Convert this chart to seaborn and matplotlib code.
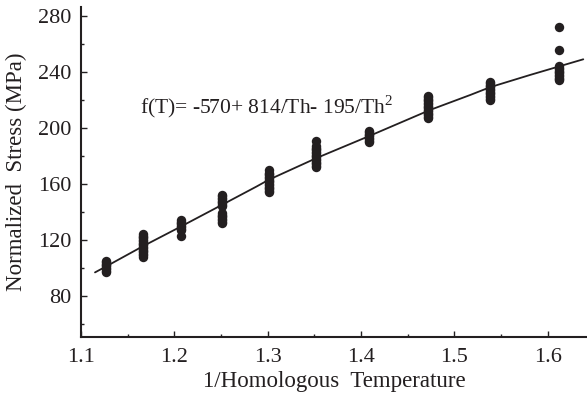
import matplotlib
matplotlib.use("Agg")
import matplotlib.pyplot as plt
import numpy as np
import pandas as pd
import seaborn as sns

# Measured normalized stress at each inverse homologous temperature
x_levels = [1.127, 1.166, 1.207, 1.251, 1.301, 1.352, 1.409, 1.4715, 1.538, 1.612]
stress_1 = [97, 98, 99, 100, 101, 102, 103, 104, 105]
stress_2 = [108, 109, 110, 111, 112, 113, 114, 115, 116, 117, 118, 119, 120, 121, 122, 123, 124]
stress_3 = [123, 127, 128, 129, 130, 131, 132, 133, 134]
stress_4 = [132, 133, 134, 135, 136, 137, 138, 139, 144, 145, 146, 147, 148, 149, 150, 151, 152]
stress_5 = [154, 155, 156, 157, 158, 159, 160, 161, 162, 163, 164, 165, 166, 167, 168, 170]
stress_6 = [172, 173, 174, 175, 176, 177, 178, 179, 180, 181, 182, 183, 184, 185, 186, 187, 191]
stress_7 = [190, 191, 192, 193, 194, 195, 196, 197, 198]
stress_8 = [207, 208, 209, 210, 211, 212, 213, 214, 215, 216, 217, 218, 219, 220, 221, 222, 223]
stress_9 = [220, 221, 222, 223, 224, 225, 226, 227, 228, 229, 230, 231, 232, 233]
stress_10 = [234, 235, 236, 237, 238, 239, 240, 241, 242, 243, 244, 256, 272]
groups = [stress_1, stress_2, stress_3, stress_4, stress_5,
          stress_6, stress_7, stress_8, stress_9, stress_10]

# Fitted curve
fit_x = [1.115, 1.127, 1.166, 1.207, 1.251, 1.288, 1.301, 1.352, 1.409,
         1.474, 1.517, 1.538, 1.581, 1.611, 1.638]
fit_y = [96.7, 101.0, 115.3, 129.5, 145.0, 158.1, 162.9, 178.4, 194.3,
         212.9, 223.6, 229.1, 237.9, 243.8, 249.1]

x_ticks = [1.1, 1.2, 1.3, 1.4, 1.5, 1.6]
y_ticks = [80, 120, 160, 200, 240, 280]

rows = [(xv, yv) for xv, ys in zip(x_levels, groups) for yv in ys]
df = pd.DataFrame(rows, columns=["inv_T", "stress"])
fit_df = pd.DataFrame({"inv_T": fit_x, "stress": fit_y})

sns.set_style("ticks")
plt.rcParams["font.family"] = ["Liberation Serif", "DejaVu Serif"]
plt.rcParams["mathtext.fontset"] = "custom"
plt.rcParams["mathtext.rm"] = "Liberation Serif"

ink = "#231f20"
fig = plt.figure(figsize=(5.87, 3.98), dpi=100)
ax = fig.add_axes([81 / 587, 1 - 337 / 398, 1 - 81 / 587, (337 - 7) / 398])

sns.scatterplot(data=df, x="inv_T", y="stress", ax=ax, color=ink, s=46,
                edgecolor=ink, linewidth=0, zorder=3)
sns.lineplot(data=fit_df, x="inv_T", y="stress", ax=ax, color=ink,
             linewidth=1.3, estimator=None, sort=False, zorder=2)

ax.set_xlim(1.1, 1.642)
ax.set_ylim(50.5, 286.5)
ax.set_xticks(x_ticks)
ax.set_xticklabels([f"{v:.1f}" for v in x_ticks])
ax.set_yticks(y_ticks)
ax.set_xticks([1.15, 1.25, 1.35, 1.45, 1.55], minor=True)
ax.set_yticks([60, 100, 140, 180, 220, 260], minor=True)

for s in ("top", "right"):
    ax.spines[s].set_visible(False)
for s in ("left", "bottom"):
    ax.spines[s].set_linewidth(1.5)
    ax.spines[s].set_color(ink)

ax.tick_params(axis="both", which="major", direction="in", length=4.5,
               width=1, colors=ink, labelsize=16)
ax.tick_params(axis="both", which="minor", direction="in", length=2.5,
               width=1, colors=ink)
ax.tick_params(axis="y", which="major", pad=7)
ax.tick_params(axis="x", which="major", pad=8)

ax.set_xlabel("1/Homologous  Temperature", fontsize=16.5, color=ink, labelpad=3)
ax.set_ylabel("Normalized  Stress (MPa)", fontsize=16.5, color=ink, labelpad=8)

ax.text(1.163, 210.7, r"f(T)= -570+ 814/Th- 195/Th$^{\mathrm{2}}$",
        fontsize=15.5, color=ink, va="baseline", ha="left")

fig.savefig("out.png", dpi=100)
